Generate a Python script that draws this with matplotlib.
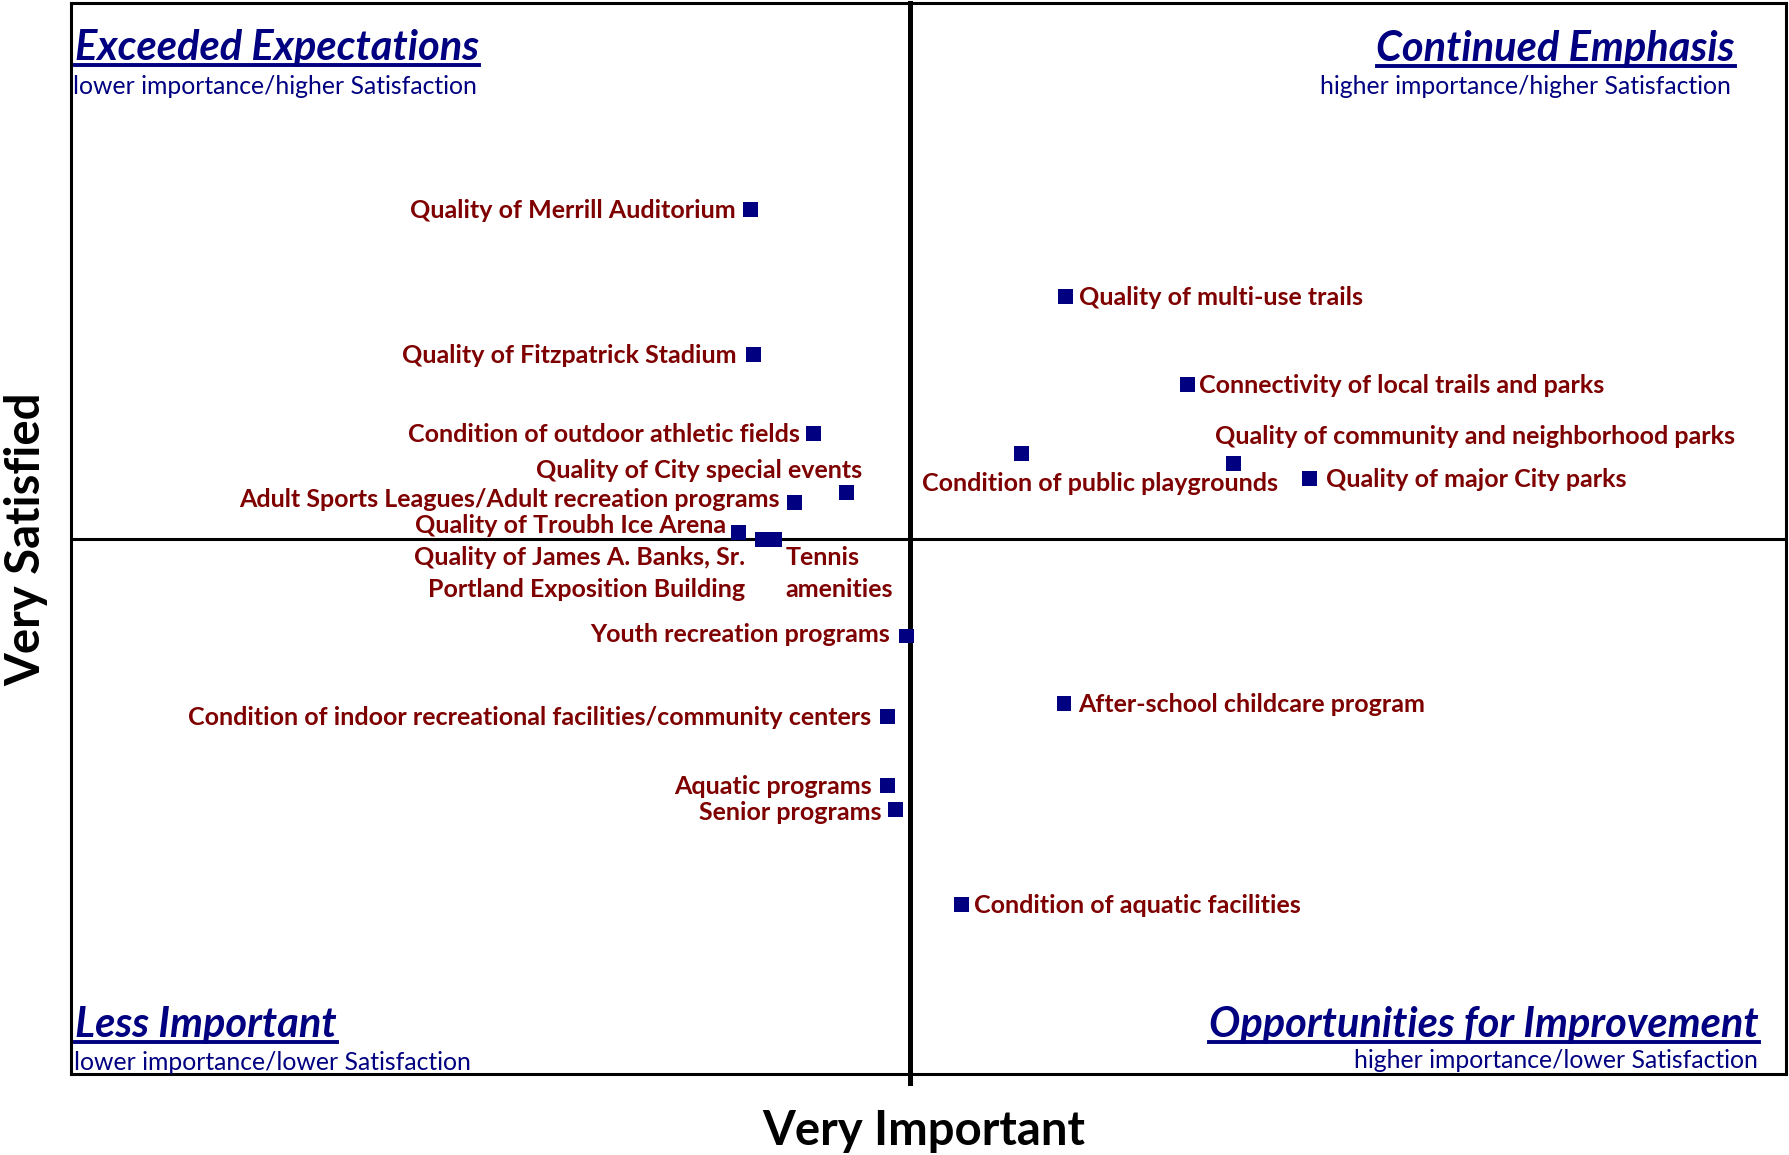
import matplotlib
matplotlib.use("Agg")
import matplotlib.pyplot as plt
from matplotlib.lines import Line2D

plt.rcParams['font.family'] = ['Lato', 'DejaVu Sans']

# Importance (x) and satisfaction (y) ratings per item, scaled 0-1
items = [
    "Quality of Merrill Auditorium",
    "Quality of Fitzpatrick Stadium",
    "Condition of outdoor athletic fields",
    "Quality of City special events",
    "Adult Sports Leagues/Adult recreation programs",
    "Quality of Troubh Ice Arena",
    "Quality of James A. Banks, Sr.\nPortland Exposition Building",
    "Tennis\namenities",
    "Youth recreation programs",
    "Condition of indoor recreational facilities/community centers",
    "Aquatic programs",
    "Senior programs",
    "Condition of aquatic facilities",
    "After-school childcare program",
    "Quality of multi-use trails",
    "Connectivity of local trails and parks",
    "Condition of public playgrounds",
    "Quality of community and neighborhood parks",
    "Quality of major City parks",
]
importance = [0.396, 0.398, 0.433, 0.452, 0.422, 0.389, 0.403, 0.410, 0.487,
              0.476, 0.476, 0.481, 0.519, 0.579, 0.580, 0.651, 0.554, 0.678, 0.722]
satisfaction = [0.807, 0.672, 0.598, 0.543, 0.534, 0.506, 0.499, 0.499, 0.409,
                0.334, 0.269, 0.247, 0.158, 0.346, 0.726, 0.644, 0.579, 0.570, 0.556]

mean_importance = 0.489
mean_satisfaction = 0.500

# label placement: (dx, dy in pixels, horizontal alignment)
placement = [
    (-15, -1, 'right'),
    (-17, -1, 'right'),
    (-14, -1, 'right'),
    (16, 22, 'right'),
    (-15, 3, 'right'),
    (-12, 7, 'right'),
    (-17, -34, 'right'),
    (11, -34, 'left'),
    (-16, 1, 'right'),
    (-16, -1, 'right'),
    (-16, -1, 'right'),
    (-14, -3, 'right'),
    (13, -1, 'left'),
    (14, -1, 'left'),
    (13, -1, 'left'),
    (12, -1, 'left'),
    (-99, -30, 'left'),
    (-19, 27, 'left'),
    (17, -1, 'left'),
]

navy = '#000080'
darkred = '#7f0000'

W, H = 1789, 1155
fig = plt.figure(figsize=(W / 100, H / 100), dpi=100)
ax = fig.add_axes([71 / W, 1 - 1074 / H, (1786 - 71) / W, (1074 - 3) / H])
ax.set_xlim(0, 1)
ax.set_ylim(0, 1)
ax.set_xticks([])
ax.set_yticks([])
for s in ax.spines.values():
    s.set_linewidth(2.2)
    s.set_color('black')

ax.axvline(mean_importance, color='black', lw=3.6, zorder=1, ymin=-0.008, clip_on=False)
ax.axhline(mean_satisfaction, color='black', lw=2.2, zorder=1)

ax.scatter(importance, satisfaction, marker='s', s=115, color=navy, zorder=3,
           edgecolors='none')

for name, x, y, (dx, dy, ha) in zip(items, importance, satisfaction, placement):
    ax.annotate(name, (x, y), xytext=(dx, dy), textcoords='offset pixels',
                ha=ha, va='center', multialignment=ha, color=darkred,
                fontsize=18, fontweight='bold', linespacing=1.45, zorder=4)

# quadrant headings
quads = [
    ("Exceeded Expectations", "lower importance/higher Satisfaction", 75, 48, 73, 87, 'left'),
    ("Continued Emphasis", "higher importance/higher Satisfaction", 1735, 49, 1731, 87, 'right'),
    ("Less Important", "lower importance/lower Satisfaction", 75, 1025, 74, 1063, 'left'),
    ("Opportunities for Improvement", "higher importance/lower Satisfaction", 1759, 1025, 1758, 1061, 'right'),
]
headings = []
for head, sub, hx, hy, sx, sy, ha in quads:
    t = fig.text(hx / W, 1 - hy / H, head, ha=ha, va='center', color=navy,
                 fontsize=30, fontweight='bold', fontstyle='italic')
    headings.append(t)
    fig.text(sx / W, 1 - sy / H, sub, ha=ha, va='center', color=navy, fontsize=17.8)

fig.text(924 / W, 1 - 1131 / H, "Very Important", ha='center', va='center',
         fontsize=34, fontweight='bold', color='black')
fig.text(26 / W, 1 - 539 / H, "Very Satisfied", ha='center', va='center',
         rotation=90, fontsize=34, fontweight='bold', color='black')

# underline the quadrant headings
fig.canvas.draw()
renderer = fig.canvas.get_renderer()
for t in headings:
    bb = t.get_window_extent(renderer)
    yline = bb.y0 + 2
    fig.add_artist(Line2D([bb.x0 / W, bb.x1 / W], [yline / H, yline / H],
                          transform=fig.transFigure, color=navy, lw=2.8))

fig.savefig("out.png", dpi=100)
